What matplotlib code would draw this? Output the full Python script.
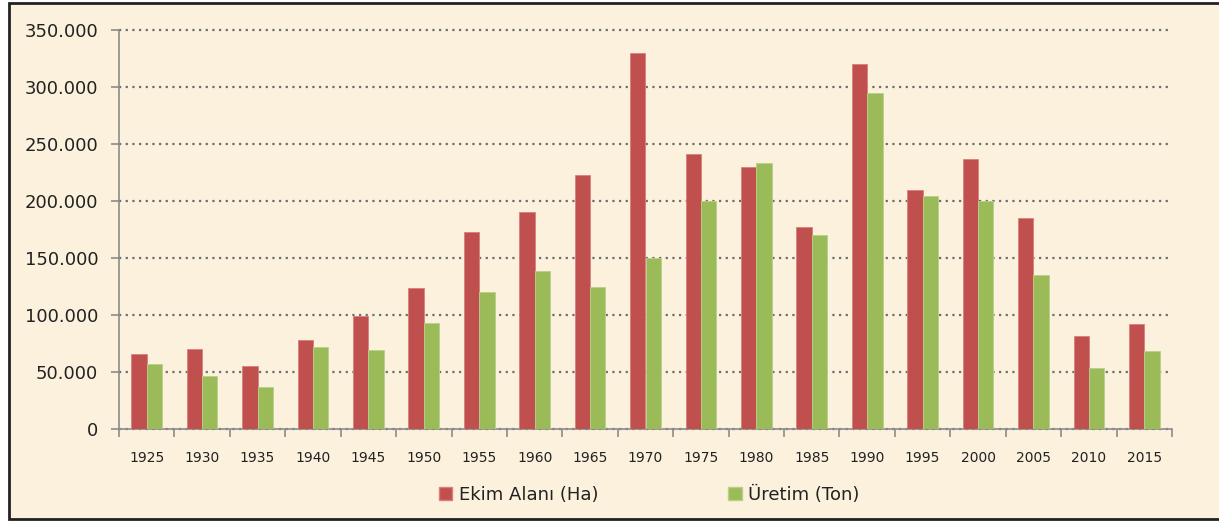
import matplotlib.pyplot as plt
from matplotlib.patches import Rectangle, Patch
from matplotlib.ticker import FuncFormatter
import numpy as np

# Data
years = ['1925', '1930', '1935', '1940', '1945', '1950', '1955', '1960', '1965', '1970',
         '1975', '1980', '1985', '1990', '1995', '2000', '2005', '2010', '2015']
ekim_alani = [66000, 70000, 55000, 78000, 99000, 123500, 173000, 190000, 223000, 330000,
              241000, 230000, 177000, 320000, 210000, 237000, 185000, 81500, 92000]
uretim = [57000, 46500, 36500, 71500, 69500, 93000, 120000, 138500, 124500, 150000,
          200000, 233000, 170000, 295000, 204000, 200000, 135500, 53500, 68000]

W, H = 1219, 521
fig = plt.figure(figsize=(W / 100, H / 100), dpi=100)
fig.patch.set_facecolor('white')

# parchment panel with dark border
bg = Rectangle((9 / W, 2 / H), 1.2, 1 - 5 / H, transform=fig.transFigure,
               facecolor='#fbf1dc', edgecolor='#222222', linewidth=2, zorder=-10)
fig.patches.append(bg)

ax = fig.add_axes([119 / W, 1 - 429 / H, (1172 - 119) / W, (429 - 30) / H])
ax.set_zorder(5)
ax.set_facecolor('none')

x = np.arange(len(years))
w = 0.277
ax.bar(x - w / 2, ekim_alani, w, color='#c0504d', edgecolor='#d9807c', linewidth=0.6, zorder=3)
ax.bar(x + w / 2, uretim, w, color='#9bbb59', edgecolor='#b9d08a', linewidth=0.6, zorder=3)

ax.set_xlim(-0.5, len(years) - 0.5)
ax.set_ylim(0, 350000)
ax.set_yticks(np.arange(0, 350001, 50000))
ax.yaxis.set_major_formatter(FuncFormatter(lambda v, p: f'{v:,.0f}'.replace(',', '.')))

ax.set_xticks(x)
ax.set_xticklabels(years, fontsize=10, color='#222222')
ax.set_xticks(np.arange(-0.5, len(years)), minor=True)
ax.tick_params(axis='x', which='major', length=0, pad=16)
ax.tick_params(axis='x', which='minor', length=6, width=1.2, color='#8c8c8c')
ax.tick_params(axis='y', length=6, width=1.2, color='#8c8c8c', labelsize=13,
               labelcolor='#222222', pad=9)

for s in ['top', 'right']:
    ax.spines[s].set_visible(False)
for s in ['left', 'bottom']:
    ax.spines[s].set_color('#8c8c8c')
    ax.spines[s].set_linewidth(1.2)

ax.yaxis.grid(True, linestyle=(0, (1, 2)), color='#6e6e6e', linewidth=1.6, zorder=1)
for gl in ax.get_ygridlines():
    gl.set_clip_on(False)
ax.set_axisbelow(True)

handles = [Patch(facecolor='#c0504d', edgecolor='#d9807c', label='Ekim Alanı (Ha)'),
           Patch(facecolor='#9bbb59', edgecolor='#b9d08a', label='Üretim (Ton)')]
fig.legend(handles=handles, loc='center', bbox_to_anchor=(649 / W, 1 - 495 / H), ncol=2,
           frameon=False, fontsize=13, handlelength=0.75, handleheight=0.75,
           handletextpad=0.35, columnspacing=7.2, labelcolor='#222222')

fig.savefig('out.png', dpi=100, facecolor=fig.get_facecolor())
